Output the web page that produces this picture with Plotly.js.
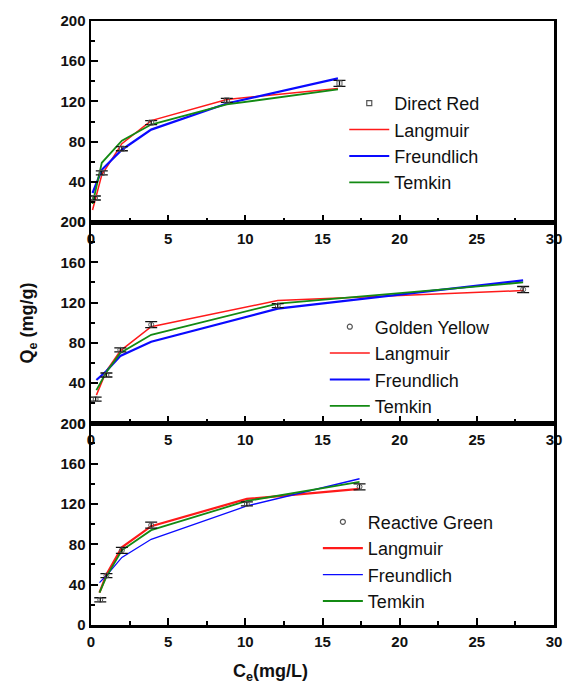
<!DOCTYPE html>
<html>
<head>
<meta charset="utf-8">
<script src="https://cdn.plot.ly/plotly-3.0.1.min.js"></script>
<style>html,body{margin:0;padding:0;background:#fff;}#chart{width:566px;height:686px;}</style>
</head>
<body>
<div id="chart"></div>
<script>
// ---- Data ----
const dyeNames = ["Direct Red", "Golden Yellow", "Reactive Green"];

// Panel 1: Direct Red
const ceDR = [0.25, 0.7, 2.0, 3.9, 8.8, 16.1];
const qeDR = [24, 49, 73, 99, 121, 138];
const errDR = [2, 2, 2, 2, 2, 3];
const fitXDR = [0.1, 0.7, 2.0, 3.9, 8.8, 16.0];
const langDR = [12, 47, 78, 101, 122, 133];
const freuDR = [29, 52, 72, 92, 118, 143];
const temkDR = [18, 59, 81, 97, 117, 132];

// Panel 2: Golden Yellow
const ceGY = [0.3, 1.0, 1.9, 3.9, 12.1, 28.0];
const qeGY = [24, 48, 73, 98, 117, 133];
const errGY = [2, 2, 2, 3, 2, 3];
const fitXGY = [0.35, 1.0, 1.9, 3.9, 12.1, 28.0];
const langGY = [28, 52, 72, 96, 122, 132];
const freuGY = [43, 52, 67, 81, 114, 142];
const temkGY = [33, 51, 70, 88, 119, 140];

// Panel 3: Reactive Green
const ceRG = [0.6, 1.0, 2.0, 3.9, 10.1, 17.4];
const qeRG = [25, 49, 74, 99, 120, 137];
const errRG = [2, 2, 3, 3, 2, 3];
const fitXRG = [0.55, 1.0, 2.0, 3.9, 10.1, 17.4];
const langRG = [32, 50, 77, 98, 125, 135];
const freuRG = [42, 49, 67, 85, 118, 145];
const temkRG = [32, 48, 74, 94, 123, 142];

const modelNames = ["Langmuir", "Freundlich", "Temkin"];
const xTicks = [0, 5, 10, 15, 20, 25, 30];
const yTicks = [0, 40, 80, 120, 160, 200];

// ---- Styling ----
const RED = "#ff1a1a", BLUE = "#0a0aff", GREEN = "#138a13";
const panels = [
  {x: ceDR, y: qeDR, e: errDR, fx: fitXDR, fits: [langDR, freuDR, temkDR], sym: "square-open",
   widths: [1.5, 2.2, 1.8], legendPos: [0.547, 0.894]},
  {x: ceGY, y: qeGY, e: errGY, fx: fitXGY, fits: [langGY, freuGY, temkGY], sym: "circle-open",
   widths: [1.5, 2.2, 1.8], legendPos: [0.505, 0.524]},
  {x: ceRG, y: qeRG, e: errRG, fx: fitXRG, fits: [langRG, freuRG, temkRG], sym: "circle-open",
   widths: [2.2, 1.3, 1.8], legendPos: [0.490, 0.201]}
];
const colors = [RED, BLUE, GREEN];

const traces = [];
const legendIds = ["legend", "legend2", "legend3"];
panels.forEach((p, i) => {
  const xa = i === 0 ? "x" : "x" + (i + 1);
  const ya = i === 0 ? "y" : "y" + (i + 1);
  // legend entry for data
  traces.push({
    x: [null], y: [null], type: "scatter", mode: "markers", name: dyeNames[i],
    xaxis: xa, yaxis: ya, legend: legendIds[i],
    marker: {symbol: p.sym, size: 5, color: "#555", line: {width: 1.2, color: "#555"}}
  });
  p.fits.forEach((f, k) => {
    traces.push({
      x: p.fx, y: f, type: "scatter", mode: "lines", name: modelNames[k],
      xaxis: xa, yaxis: ya, legend: legendIds[i],
      line: {color: colors[k], width: p.widths[k]}
    });
  });
  // data points with error bars
  traces.push({
    x: p.x, y: p.y, type: "scatter", mode: "markers", name: dyeNames[i], showlegend: false,
    xaxis: xa, yaxis: ya,
    marker: {symbol: p.sym, size: 5, color: "#555", line: {width: 1, color: "#555"}},
    error_y: {type: "data", array: p.e, visible: true, color: "#111", thickness: 1.3, width: 6}
  });
});

const tickFont = {family: "Liberation Sans, Arial, sans-serif", size: 15, color: "#111", weight: "bold"};
function xAxis(anchor) {
  return {
    range: [0, 30], tickvals: xTicks, ticktext: xTicks.map(String), anchor: anchor,
    showline: true, linewidth: 2.5, linecolor: "#000", mirror: true,
    ticks: "inside", ticklen: 7, tickwidth: 2, tickcolor: "#000",
    minor: {tickvals: [2.5, 7.5, 12.5, 17.5, 22.5, 27.5], ticks: "inside", ticklen: 4, tickwidth: 2, tickcolor: "#000"},
    showgrid: false, zeroline: false, tickfont: tickFont, ticklabelstandoff: 1
  };
}
function yAxis(anchor, domain) {
  return {
    range: [0, 200], domain: domain, anchor: anchor, tickvals: yTicks, ticktext: yTicks.map(String),
    showline: true, linewidth: 2.5, linecolor: "#000", mirror: true,
    ticks: "inside", ticklen: 7, tickwidth: 2, tickcolor: "#000",
    minor: {tickvals: [20, 60, 100, 140, 180], ticks: "inside", ticklen: 4, tickwidth: 2, tickcolor: "#000"},
    showgrid: false, zeroline: false, tickfont: tickFont
  };
}

const legFont = {family: "Liberation Sans, Arial, sans-serif", size: 18, color: "#111"};
const legends = {};
panels.forEach((p, i) => {
  legends[legendIds[i]] = {
    x: p.legendPos[0], y: p.legendPos[1], xanchor: "left", yanchor: "top",
    bgcolor: "rgba(0,0,0,0)", borderwidth: 0, font: legFont, traceorder: "normal",
    itemwidth: 40, tracegroupgap: 0
  };
});

const layout = Object.assign({
  width: 566, height: 686,
  margin: {l: 91, r: 12, t: 21, b: 61},
  paper_bgcolor: "#fff", plot_bgcolor: "rgba(0,0,0,0)",
  showlegend: true,
  xaxis: xAxis("y"), yaxis: yAxis("x", [0.667, 1]),
  xaxis2: xAxis("y2"), yaxis2: yAxis("x2", [0.334, 0.667]),
  xaxis3: xAxis("y3"), yaxis3: yAxis("x3", [0, 0.334]),
  annotations: [
    {text: "Q<sub>e</sub> (mg/g)", xref: "paper", yref: "paper", x: -0.135, y: 0.5,
     textangle: -90, showarrow: false, xanchor: "center", yanchor: "middle",
     font: {family: "Liberation Sans, Arial, sans-serif", size: 18, color: "#111", weight: "bold"}},
    {text: "C<sub>e</sub>(mg/L)", xref: "paper", yref: "paper", x: 0.387, y: -0.078,
     showarrow: false, xanchor: "center", yanchor: "middle",
     font: {family: "Liberation Sans, Arial, sans-serif", size: 18, color: "#111", weight: "bold"}}
  ]
}, legends);

Plotly.newPlot("chart", traces, layout, {displayModeBar: false, staticPlot: true});
</script>
</body>
</html>
